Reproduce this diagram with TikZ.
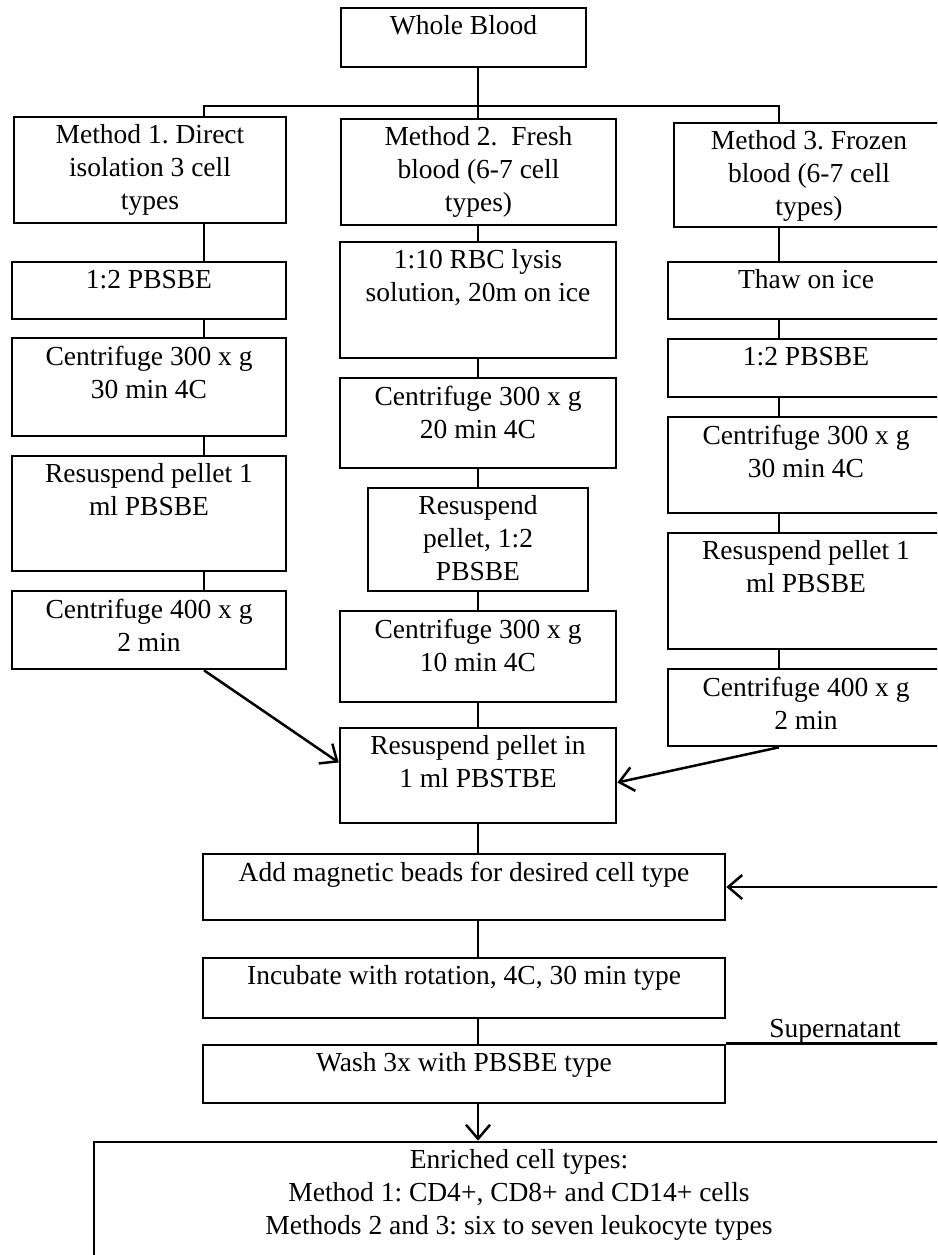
\documentclass[tikz,border=0pt]{standalone}
\usepackage{fontspec}
\setmainfont{Liberation Serif}
\frenchspacing
\usetikzlibrary{arrows.meta,calc}
\newcommand\mybox[6]{\node[box, minimum width={#4-#2}, minimum height={#5-#3}, label={[txt]north:{#6}}] (#1) at ({(#2+#4)/2},{(#3+#5)/2}) {};}
\begin{document}
\begin{tikzpicture}[x=1pt,y=-1pt,
  box/.style={draw, line width=2.6pt, inner sep=0pt},
  txt/.style={font=\fontsize{27.5}{33}\selectfont, align=center, inner sep=0pt, anchor=north, yshift=-9pt},
  conn/.style={line width=2.5pt},
  arr/.style={line width=2.5pt, -{Straight Barb[length=14pt,width=24pt]}}]
\useasboundingbox (0,0) rectangle (937,1255);
\fill[white] (0,0) rectangle (937,1255);
\clip (0,0) rectangle (937,1255);
\coordinate (c1) at (204,0);
\coordinate (c2) at (478,0);
\coordinate (c3) at (779,0);
\coordinate (hb) at (0,106);
\coordinate (loop) at (965,0);
% boxes
\mybox{wb}{341}{8}{586}{67}{Whole Blood}
\mybox{m1}{14}{117}{286}{223}{Method 1. Direct\\isolation 3 cell\\types}
\mybox{m2}{341}{119}{616}{225}{Method 2.\ \ Fresh\\blood (6-7 cell\\types)}
\mybox{m3}{674}{123}{944}{227}{Method 3. Frozen\\blood (6-7 cell\\types)}
\mybox{a1}{12}{262}{286}{319}{1:2 PBSBE}
\mybox{a2}{12}{338}{286}{436}{Centrifuge 300 x g\\30 min 4C}
\mybox{a3}{12}{456}{286}{571}{Resuspend pellet 1\\ml PBSBE}
\mybox{a4}{12}{591}{286}{669}{Centrifuge 400 x g\\2 min}
\mybox{b1}{340}{242}{616}{358}{1:10 RBC lysis\\solution, 20m on ice}
\mybox{b2}{340}{378}{616}{468}{Centrifuge 300 x g\\20 min 4C}
\mybox{b3}{368}{488}{588}{591}{Resuspend\\pellet, 1:2\\PBSBE}
\mybox{b4}{340}{611}{616}{702}{Centrifuge 300 x g\\10 min 4C}
\mybox{b5}{340}{728}{616}{823}{Resuspend pellet in\\1 ml PBSTBE}
\mybox{t1}{668}{262}{944}{319}{Thaw on ice}
\mybox{t2}{668}{339}{944}{397}{1:2 PBSBE}
\mybox{t3}{668}{417}{944}{513}{Centrifuge 300 x g\\30 min 4C}
\mybox{t4}{668}{533}{944}{649}{Resuspend pellet 1\\ml PBSBE}
\mybox{t5}{668}{669}{944}{746}{Centrifuge 400 x g\\2 min}
\mybox{d1}{203}{854}{725}{920}{Add magnetic beads for desired cell type}
\mybox{d2}{203}{958}{725}{1018}{Incubate with rotation, 4C, 30 min type}
\mybox{d3}{203}{1045}{725}{1103}{Wash 3x with PBSBE type}
\mybox{en}{94}{1142}{944}{1320}{Enriched cell types:\\Method 1: CD4+, CD8+ and CD14+ cells\\Methods 2 and 3: six to seven leukocyte types}
\node[font=\fontsize{27.5}{33}\selectfont, anchor=base, inner sep=0pt] (sup) at (835,1037) {Supernatant};
% connectors
\draw[conn] (wb.south -| c2) -- (m2.north -| c2);
\draw[conn] (m1.north -| c1) -- (c1 |- hb) -- (c3 |- hb) -- (m3.north -| c3);
\draw[conn] (m1.south -| c1) -- (a1.north -| c1);
\draw[conn] (a1.south -| c1) -- (a2.north -| c1);
\draw[conn] (a2.south -| c1) -- (a3.north -| c1);
\draw[conn] (a3.south -| c1) -- (a4.north -| c1);
\draw[conn] (m2.south -| c2) -- (b1.north -| c2);
\draw[conn] (b1.south -| c2) -- (b2.north -| c2);
\draw[conn] (b2.south -| c2) -- (b3.north -| c2);
\draw[conn] (b3.south -| c2) -- (b4.north -| c2);
\draw[conn] (b4.south -| c2) -- (b5.north -| c2);
\draw[conn] (b5.south -| c2) -- (d1.north -| c2);
\draw[conn] (d1.south -| c2) -- (d2.north -| c2);
\draw[conn] (d2.south -| c2) -- (d3.north -| c2);
\draw[arr] (d3.south -| c2) -- (en.north -| c2);
\draw[conn] (m3.south -| c3) -- (t1.north -| c3);
\draw[conn] (t1.south -| c3) -- (t2.north -| c3);
\draw[conn] (t2.south -| c3) -- (t3.north -| c3);
\draw[conn] (t3.south -| c3) -- (t4.north -| c3);
\draw[conn] (t4.south -| c3) -- (t5.north -| c3);
\draw[arr] (a4.south -| c1) -- ([yshift=13pt]b5.west);
\draw[arr] (t5.south -| c3) -- ([yshift=-7pt]b5.east);
\draw[arr] (d3.north east) -- (loop |- d3.north) -- (loop |- d1.east) -- (d1.east);
\end{tikzpicture}
\end{document}
